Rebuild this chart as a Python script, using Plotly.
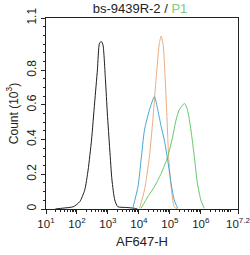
import numpy as np
import plotly.graph_objects as go

# data: log10(fluorescence) exponents and counts (10^3)
black_x = [1.3, 1.55, 1.88, 2.09, 2.25, 2.36, 2.47, 2.57, 2.66, 2.73, 2.79, 2.84, 2.92, 2.98, 3.06, 3.13, 3.22, 3.32, 3.59, 3.86, 3.95]
black_y = [0.0, 0.005, 0.013, 0.042, 0.109, 0.225, 0.397, 0.611, 0.801, 0.956, 0.964, 0.945, 0.743, 0.553, 0.340, 0.167, 0.052, 0.013, 0.009, 0.004, 0.0]

blue_x = [3.80, 3.97, 4.07, 4.18, 4.34, 4.50, 4.61, 4.72, 4.82, 4.93, 5.04, 5.14, 5.25]
blue_y = [0.004, 0.128, 0.282, 0.455, 0.570, 0.647, 0.570, 0.474, 0.397, 0.282, 0.146, 0.052, 0.004]

orange_x = [4.02, 4.18, 4.34, 4.45, 4.56, 4.66, 4.72, 4.79, 4.85, 4.91, 4.96, 5.04, 5.14, 5.24]
orange_y = [0.004, 0.109, 0.301, 0.513, 0.762, 0.954, 0.996, 0.935, 0.743, 0.513, 0.301, 0.128, 0.013, 0.0]

green_x = [4.07, 4.29, 4.50, 4.72, 4.93, 5.09, 5.20, 5.30, 5.47, 5.57, 5.68, 5.79, 5.89, 6.00, 6.11]
green_y = [0.004, 0.071, 0.128, 0.205, 0.301, 0.416, 0.513, 0.570, 0.608, 0.570, 0.455, 0.301, 0.148, 0.052, 0.004]

x_tick_exp = [1, 2, 3, 4, 5, 6, 7.2]
x_tick_text = ["10<sup>1</sup>", "10<sup>2</sup>", "10<sup>3</sup>", "10<sup>4</sup>",
               "10<sup>5</sup>", "10<sup>6</sup>", "10<sup>7.2</sup>"]
y_tick_vals = [0, 0.2, 0.4, 0.6, 0.8, 1.1]
y_tick_text = ["0", "0.2", "0.4", "0.6", "0.8", "1.1"]

series = [
    (black_x, black_y, "#1e1e1e"),
    (orange_x, orange_y, "#e9ad82"),
    (blue_x, blue_y, "#46a6d6"),
    (green_x, green_y, "#66c866"),
]

fig = go.Figure()
for xs, ys, col in series:
    fig.add_trace(go.Scatter(
        x=10 ** np.array(xs), y=ys, mode="lines",
        line=dict(color=col, width=1, shape="spline", smoothing=0.6),
        showlegend=False, hoverinfo="skip"))

minor_vals = [m * 10 ** d for d in range(1, 8) for m in range(2, 10) if m * 10 ** d < 10 ** 7.2]

fam = "Liberation Sans, Arial, sans-serif"
font = dict(family=fam, size=13, color="#222")

fig.update_layout(
    width=250, height=255,
    margin=dict(l=46, r=12, t=18, b=46),
    plot_bgcolor="white", paper_bgcolor="white",
    font=font,
    title=dict(text="bs-9439R-2 / <span style='color:#7ccc7c'>P1</span>",
               x=0.56, xanchor="center", y=0.968, yanchor="middle",
               font=dict(family=fam, size=13, color="#222")),
    xaxis=dict(type="log", range=[1, 7.2], automargin=False,
               tickvals=[10 ** e for e in x_tick_exp], ticktext=x_tick_text,
               ticklabeloverflow="allow",
               ticks="outside", ticklen=4, tickcolor="#222", tickwidth=1,
               tickfont=dict(family=fam, size=11.5, color="#222"),
               minor=dict(tickvals=minor_vals, ticks="outside", ticklen=2, tickcolor="#222"),
               showline=True, linecolor="#222", linewidth=1, mirror=True,
               showgrid=False, zeroline=False,
               title=dict(text="AF647-H", standoff=8, font=dict(family=fam, size=13))),
    yaxis=dict(range=[0, 1.1], automargin=False,
               tickvals=y_tick_vals, ticktext=y_tick_text, tickangle=-90,
               ticks="outside", ticklen=4, tickcolor="#222", tickwidth=1,
               tickfont=dict(family=fam, size=12, color="#222"),
               minor=dict(dtick=0.05, ticks="outside", ticklen=2, tickcolor="#222"),
               showline=True, linecolor="#222", linewidth=1, mirror=True,
               showgrid=False, zeroline=False,
               title=dict(text="Count (10<sup>3</sup>)", standoff=4, font=dict(family=fam, size=12))),
)

fig.write_html("out.html")
